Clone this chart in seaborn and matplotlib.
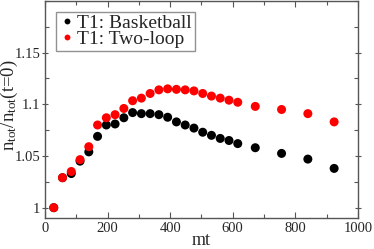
import numpy as np
import pandas as pd
import matplotlib
matplotlib.use("Agg")
import matplotlib.pyplot as plt
import seaborn as sns
from matplotlib.ticker import MultipleLocator, FormatStrFormatter

# values
mt = [28, 56, 84, 112, 140, 168, 196, 224, 252, 280, 308, 336, 364,
      392, 420, 448, 476, 504, 532, 560, 588, 616, 672, 756, 840, 924]
basketball = [1.000, 1.029, 1.033, 1.045, 1.054, 1.069, 1.080, 1.081, 1.087,
              1.092, 1.091, 1.091, 1.090, 1.0875, 1.083, 1.080, 1.077, 1.073,
              1.070, 1.067, 1.065, 1.062, 1.058, 1.0525, 1.047, 1.038]
two_loop = [1.000, 1.029, 1.035, 1.0465, 1.059, 1.080, 1.087, 1.090, 1.096,
            1.1035, 1.106, 1.1105, 1.114, 1.115, 1.1145, 1.114, 1.113, 1.1105,
            1.108, 1.106, 1.104, 1.102, 1.098, 1.095, 1.091, 1.083]
labels = ["T1: Basketball", "T1: Two-loop"]
colors = ["black", "red"]

df = pd.concat([
    pd.DataFrame({"mt": mt, "ratio": basketball, "series": labels[0]}),
    pd.DataFrame({"mt": mt, "ratio": two_loop, "series": labels[1]}),
])

sns.set_style("ticks")
plt.rcParams["font.family"] = ["Liberation Serif", "DejaVu Serif"]
plt.rcParams["mathtext.fontset"] = "custom"
plt.rcParams["mathtext.rm"] = "Liberation Serif"
plt.rcParams["mathtext.it"] = "Liberation Serif"

fig = plt.figure(figsize=(3.74, 2.49), dpi=100)
ax = fig.add_axes([0.1203, 0.1245, 0.8367, 0.8715])

sns.scatterplot(data=df, x="mt", y="ratio", hue="series", palette=colors,
                s=42, edgecolor="none", linewidth=0, ax=ax, zorder=3)

ax.set_xlim(0, 1000)
ax.set_ylim(0.99, 1.2)
ax.xaxis.set_major_locator(MultipleLocator(200))
ax.xaxis.set_minor_locator(MultipleLocator(100))
ax.yaxis.set_minor_locator(MultipleLocator(0.025))
ax.yaxis.set_major_formatter(FormatStrFormatter("%g"))
ax.set_yticks([1.0, 1.05, 1.1, 1.15])

ax.tick_params(which="both", direction="in", top=True, right=True,
               labelsize=10.5, color="#555555", width=0.8)
ax.tick_params(which="major", length=4, pad=3)
ax.tick_params(which="minor", length=3)
ax.tick_params(axis="y", which="major", direction="inout", length=5, pad=1)
for sp in ax.spines.values():
    sp.set_color("#555555")
    sp.set_linewidth(1.0)

ax.set_xlabel("mt", fontsize=13, labelpad=-2)
ax.set_ylabel(r"n$_{\rm tot}$/n$_{\rm tot}$(t=0)", fontsize=13.5)
ax.yaxis.label.set_verticalalignment("center")
ax.yaxis.set_label_coords(-0.113, 0.52)

handles, _ = ax.get_legend_handles_labels()
leg = ax.legend(handles, labels, loc="upper left", fontsize=14,
                frameon=True, fancybox=False, edgecolor="#777777",
                handletextpad=0.05, handlelength=0.9, borderpad=0.15,
                labelspacing=-0.08, borderaxespad=0.55, markerscale=0.65)
leg.get_frame().set_linewidth(1.0)

fig.savefig("out.png", dpi=100)
